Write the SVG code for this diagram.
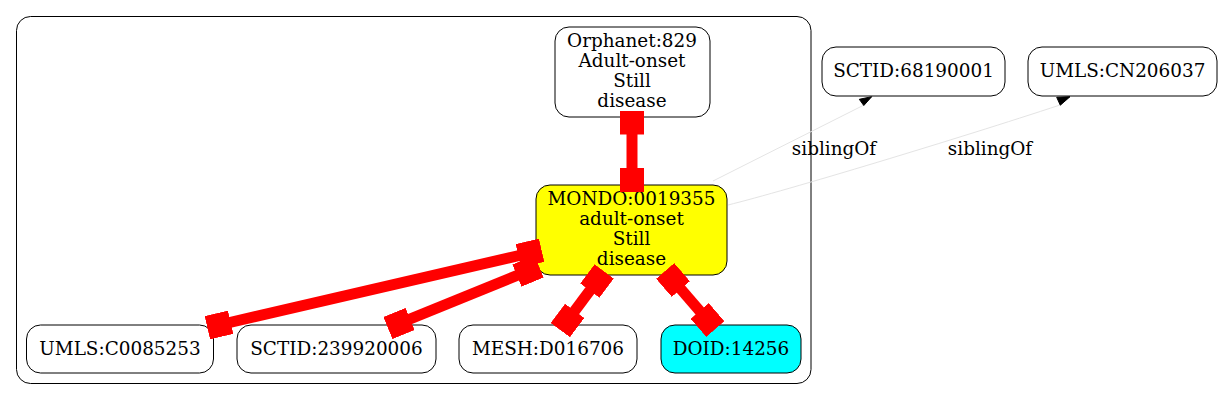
<svg xmlns="http://www.w3.org/2000/svg" width="1229" height="400" viewBox="0 0 1229 400">
<defs>
<style>
.cl{fill:none;stroke:#000;stroke-width:1}
.nd{fill:#fff;stroke:#000;stroke-width:1}
.t{font-family:"DejaVu Serif",serif;font-size:18.4px;fill:#000;text-anchor:middle}
.re{stroke:#f00;stroke-width:11;fill:none;marker-start:url(#bx);marker-end:url(#bx)}
.sib{stroke:#e4e4e4;stroke-width:1;fill:none}
.ah{fill:#000;stroke:#000;stroke-width:1}
</style>
<marker id="bx" viewBox="-12 -12 24 24" refX="0" refY="0" markerWidth="24" markerHeight="24" markerUnits="userSpaceOnUse" orient="auto">
<rect x="-12" y="-12" width="24" height="24" fill="#f00"/>
</marker>
</defs>
<rect width="1229" height="400" fill="#fff"/>
<g id="cluster">
<rect class="cl" x="16.5" y="16.5" width="794.5" height="367" rx="14"/>
</g>
<g id="Orphanet_829">
<rect class="nd" x="555" y="27" width="155" height="90" rx="14"/>
<text class="t" x="632" y="47">Orphanet:829</text>
<text class="t" x="632" y="67">Adult-onset</text>
<text class="t" x="632" y="87">Still</text>
<text class="t" x="632" y="107">disease</text>
</g>
<g id="MONDO_0019355">
<rect class="nd" x="536" y="185" width="191" height="90" rx="14" style="fill:#ffff00"/>
<text class="t" x="631.5" y="205">MONDO:0019355</text>
<text class="t" x="631.5" y="225">adult-onset</text>
<text class="t" x="631.5" y="245">Still</text>
<text class="t" x="631.5" y="265">disease</text>
</g>
<g id="UMLS_C0085253">
<rect class="nd" x="26.5" y="325" width="187" height="48" rx="14"/>
<text class="t" x="120" y="354.5">UMLS:C0085253</text>
</g>
<g id="SCTID_239920006">
<rect class="nd" x="237" y="325" width="199" height="48" rx="14"/>
<text class="t" x="336.5" y="354.5">SCTID:239920006</text>
</g>
<g id="MESH_D016706">
<rect class="nd" x="459" y="325" width="178" height="48" rx="14"/>
<text class="t" x="548" y="354.5">MESH:D016706</text>
</g>
<g id="DOID_14256">
<rect class="nd" x="661" y="325" width="140" height="48" rx="14" style="fill:#00ffff"/>
<text class="t" x="731" y="354.5">DOID:14256</text>
</g>
<g id="SCTID_68190001">
<rect class="nd" x="822" y="47" width="183" height="49" rx="14"/>
<text class="t" x="913.5" y="77">SCTID:68190001</text>
</g>
<g id="UMLS_CN206037">
<rect class="nd" x="1028" y="47" width="189" height="49" rx="14"/>
<text class="t" x="1122.5" y="77">UMLS:CN206037</text>
</g>
<g id="edges">
<path class="re" d="M632,122.5 L632,180"/>
<path class="re" d="M219,325 L530,253"/>
<path class="re" d="M399,323.5 L528,271"/>
<path class="re" d="M597,281 L567.5,320.5"/>
<path class="re" d="M673,280 L707.5,320"/>
<path class="sib" d="M713,181 L864,105"/>
<polygon class="ah" points="859.3,99.3 871.7,96.7 863.8,105.5"/>
<text class="t" x="834" y="155">siblingOf</text>
<path class="sib" d="M728,205 C785,191 960,138 1060,105"/>
<polygon class="ah" points="1056.7,97.3 1070,96.7 1060.3,105.2"/>
<text class="t" x="990" y="155">siblingOf</text>
</g>
</svg>
